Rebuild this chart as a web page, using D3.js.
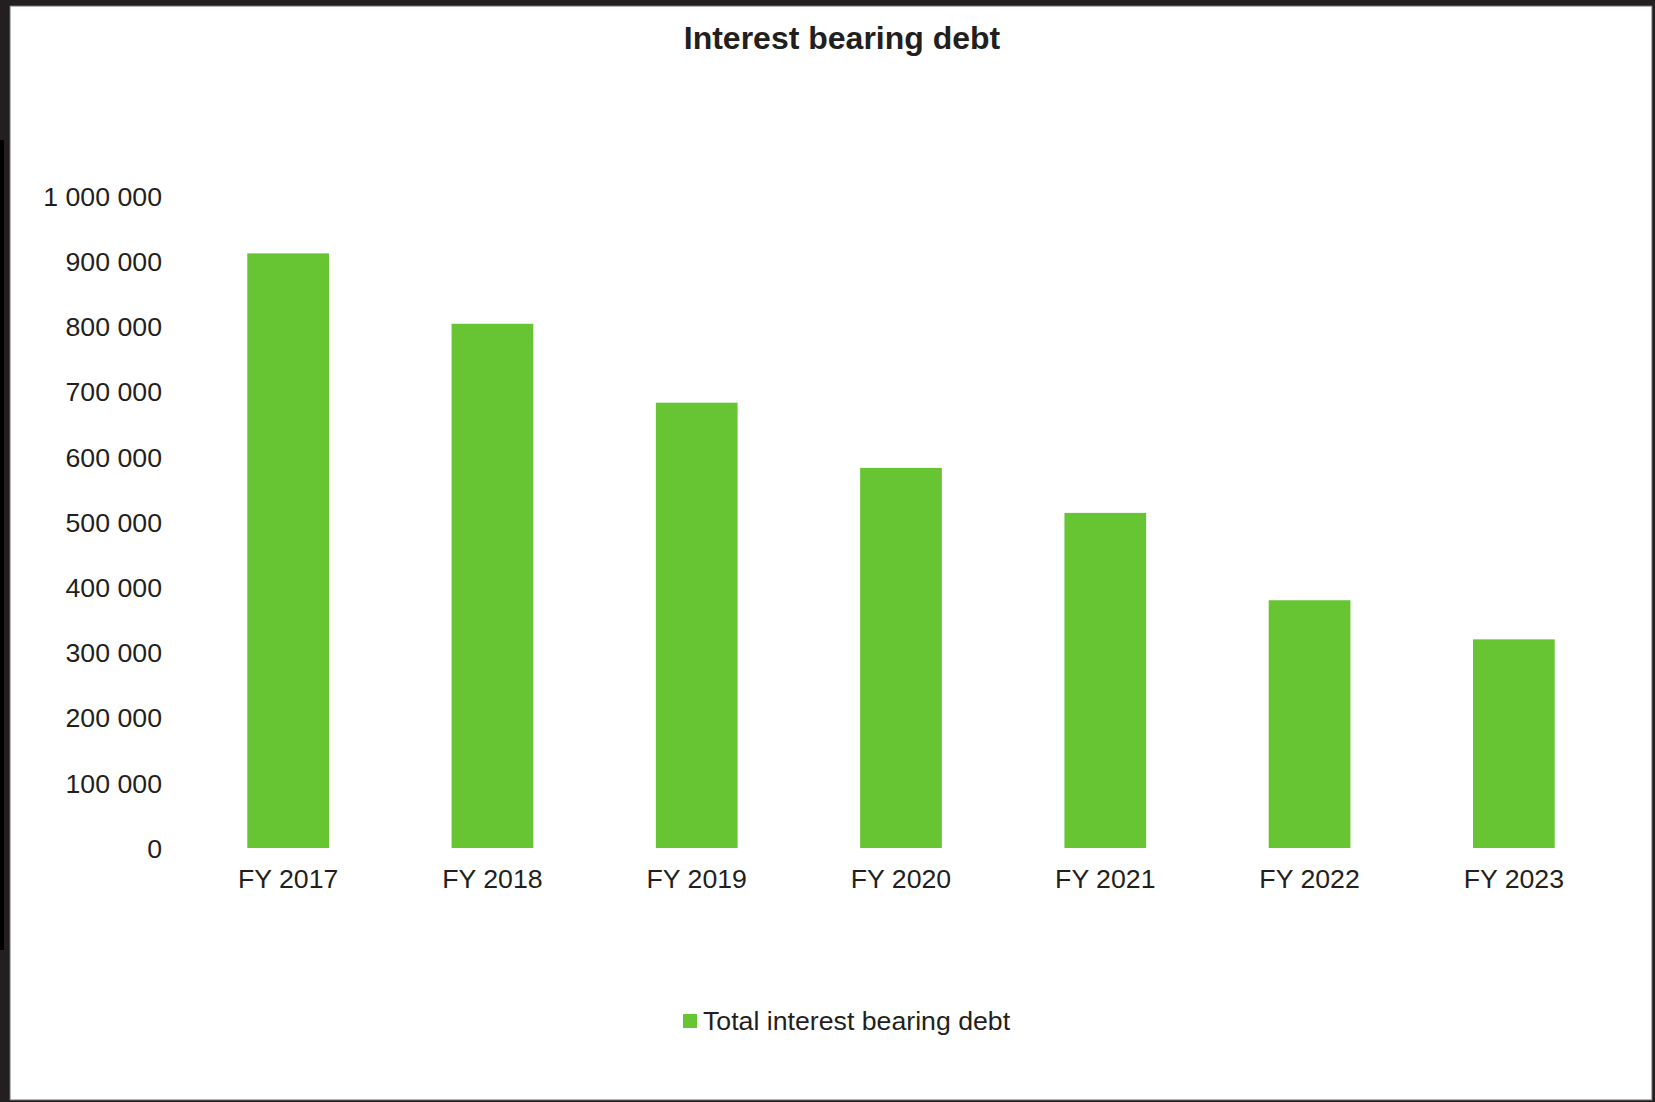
<!DOCTYPE html>
<html>
<head>
<meta charset="utf-8">
<script src="https://cdn.jsdelivr.net/npm/d3@7"></script>
<style>
  html, body { margin: 0; padding: 0; background: #ffffff; }
  svg { display: block; }
  text { font-family: "Liberation Sans", Arial, sans-serif; fill: #231f20; }
</style>
</head>
<body>
<svg id="chart" width="1655" height="1102"></svg>
<script>
// Interest bearing debt by fiscal year
const categories = ["FY 2017", "FY 2018", "FY 2019", "FY 2020", "FY 2021", "FY 2022", "FY 2023"];
const debtValues = [912000, 804000, 683000, 583000, 514000, 380000, 320000];
const yTicks = [0, 100000, 200000, 300000, 400000, 500000, 600000, 700000, 800000, 900000, 1000000];
const seriesName = "Total interest bearing debt";
const chartTitle = "Interest bearing debt";

const W = 1655, H = 1102;
const barColor = "#67c533";
const svg = d3.select("#chart");

// Frame
svg.append("rect").attr("x", 0).attr("y", 0).attr("width", W).attr("height", H).attr("fill", "#231f20");
svg.append("rect").attr("x", 0).attr("y", 140).attr("width", 4).attr("height", 810).attr("fill", "#000");
svg.append("rect").attr("x", 10).attr("y", 6).attr("width", W - 13).attr("height", H - 8)
  .attr("fill", "#ffffff").attr("stroke", "#6d6d6d").attr("stroke-width", 1);

const x = d3.scaleBand().domain(categories).range([186, 1616]).paddingInner(0.6).paddingOuter(0.3);
const y = d3.scaleLinear().domain([0, 1000000]).range([848, 196]);

const fmt = v => d3.format(",")(v).replace(/,/g, " ");

// Bars
svg.append("g").selectAll("rect").data(categories).join("rect")
  .attr("x", d => x(d))
  .attr("width", x.bandwidth())
  .attr("y", (d, i) => y(debtValues[i]))
  .attr("height", (d, i) => y(0) - y(debtValues[i]))
  .attr("fill", barColor);

// Y axis labels
const yAxis = d3.axisLeft(y).tickValues(yTicks).tickFormat(fmt).tickSize(0).tickPadding(0);
const gy = svg.append("g").attr("transform", "translate(162,0)").call(yAxis);
gy.select(".domain").remove();
gy.selectAll("text").style("font-size", "26.7px").attr("fill", "#231f20")
  .attr("dy", "0.35em");

// X axis labels
const xAxis = d3.axisBottom(x).tickSize(0).tickPadding(0);
const gx = svg.append("g").attr("transform", "translate(0,869)").call(xAxis);
gx.select(".domain").remove();
gx.selectAll("text").style("font-size", "26.7px").attr("fill", "#231f20").attr("dy", "0.71em");

// Title
svg.append("text").attr("x", 842).attr("y", 49).attr("text-anchor", "middle")
  .style("font-size", "32px").style("font-weight", "bold").text(chartTitle);

// Legend
svg.append("rect").attr("x", 683).attr("y", 1014).attr("width", 14).attr("height", 14).attr("fill", barColor);
svg.append("text").attr("x", 703).attr("y", 1030).style("font-size", "26.7px").text(seriesName);
</script>
</body>
</html>
